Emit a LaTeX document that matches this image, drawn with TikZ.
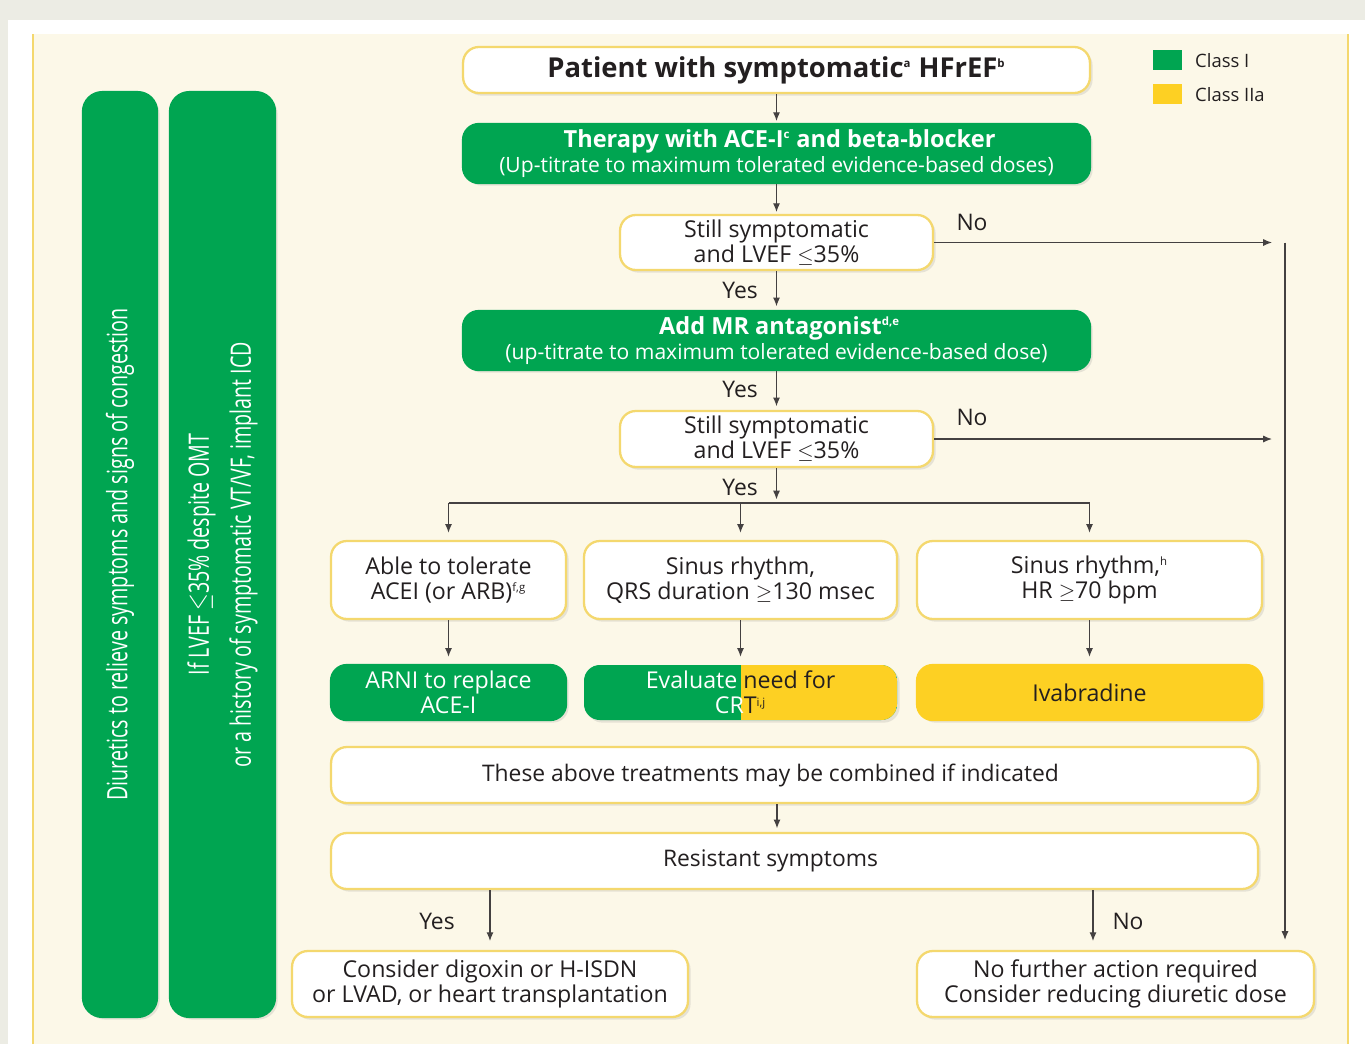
\documentclass[tikz,border=0pt]{standalone}
\usepackage{fontspec}
\setmainfont{Open Sans}
\usetikzlibrary{arrows.meta,positioning,shadows}

\definecolor{escgreen}{HTML}{00A551}
\definecolor{escyellow}{HTML}{FDD023}
\definecolor{escline}{HTML}{F4D86E}
\definecolor{esccream}{HTML}{FCF8E8}
\definecolor{escgray}{HTML}{ECECE4}
\definecolor{esctext}{HTML}{231F20}

\newcommand{\fs}[2]{\fontsize{#1}{#2}\selectfont}
\newcommand{\narrow}[1]{\scalebox{0.7}[1]{#1}}
\newcommand{\fnote}[1]{\textsuperscript{\fontsize{6.5}{7}\selectfont #1}}

\tikzset{
  boxbase/.style={draw=escline, line width=1.3pt, fill=white, rounded corners=9pt,
    align=center, text=esctext, inner sep=0pt, font=\fs{13.2}{14.2}},
  box/.style={boxbase, drop shadow={opacity=0.18, shadow xshift=1.5pt, shadow yshift=-1.5pt}},
  greenbox/.style={box, draw=escgreen, fill=escgreen, text=white},
  ylwbox/.style={box, draw=escyellow, fill=escyellow},
  sidebar/.style={greenbox, rotate=90, rounded corners=11pt, font=\fs{16}{24}},
  arr/.style={draw=esctext!85, line width=0.7pt, -{Latex[length=5pt,width=4pt]}},
  lbl/.style={text=esctext, font=\fs{13}{14}},
}

\begin{document}
\begin{tikzpicture}[x=0.02cm, y=-0.02cm]
  %%%%%%%% Sfondo %%%%%%%%
  \fill[escgray] (0,0) rectangle (1365,1044);
  \fill[white] (8,20) rectangle (1365,1044);
  \fill[esccream] (33,34) rectangle (1348,1044);
  \draw[escline, line width=0.8pt] (33,1044) -- (33,34);
  \draw[escline, line width=0.8pt] (1348,1044) -- (1348,34);

  %%%%%%%% Barre laterali %%%%%%%%
  \node[sidebar, minimum width=18.5cm, minimum height=1.48cm] (diur) at (120,554.5)
    {\narrow{Diuretics to relieve symptoms and signs of congestion}};
  \node[sidebar, minimum width=18.5cm, minimum height=2.1cm] (icd) at (222.5,554.5)
    {\narrow{If LVEF $\leq$35\% despite OMT}\\\narrow{or a history of symptomatic VT/VF, implant ICD}};

  %%%%%%%% Legenda %%%%%%%%
  \node[fill=escgreen, minimum width=0.58cm, minimum height=0.4cm, inner sep=0pt] (lgreen) at (1167.5,60) {};
  \node[fill=escyellow, minimum width=0.58cm, minimum height=0.4cm, inner sep=0pt] (lyellow) at (1167.5,94) {};
  \node[lbl, font=\fs{10.5}{12}, anchor=west] (lgreentxt) at (1189,61) {Class I};
  \node[lbl, font=\fs{10.5}{12}, anchor=west] (lyellowtxt) at (1189,95) {Class IIa};

  %%%%%%%% Blocchi %%%%%%%%
  \node[box, font=\bfseries\fs{15.6}{16}, minimum width=12.54cm, minimum height=0.92cm] (pat) at (776.5,70)
    {Patient with symptomatic\fnote{a} HFrEF\fnote{b}};
  \node[greenbox, minimum width=12.54cm, minimum height=1.18cm] (ther) at (776.5,153.5)
    {{\bfseries\fs{13.4}{14} Therapy with ACE-I\fnote{c} and beta-blocker}\\
     {\fs{12}{13}(Up-titrate to maximum tolerated evidence-based doses)}};
  \node[box, minimum width=6.26cm, minimum height=1.1cm] (still1) at (776.5,242.5)
    {Still symptomatic\\and LVEF $\leq$35\%};
  \node[greenbox, minimum width=12.54cm, minimum height=1.18cm] (mra) at (776.5,340.5)
    {{\bfseries\fs{13.4}{14} Add MR antagonist\fnote{d,e}}\\
     {\fs{12}{13}(up-titrate to maximum tolerated evidence-based dose)}};
  \node[box, minimum width=6.26cm, minimum height=1.12cm] (still2) at (776.5,439)
    {Still symptomatic\\and LVEF $\leq$35\%};

  \node[box, minimum width=4.7cm, minimum height=1.56cm] (tol) at (448.5,580)
    {Able to tolerate\\ACEI (or ARB)\fnote{f,g}};
  \node[box, minimum width=6.26cm, minimum height=1.56cm] (qrs) at (740.5,580)
    {Sinus rhythm,\\QRS duration $\geq$130 msec};
  \node[box, minimum width=6.9cm, minimum height=1.56cm] (hr) at (1089.5,580)
    {Sinus rhythm,\fnote{h}\\HR $\geq$70 bpm};

  \node[greenbox, minimum width=4.7cm, minimum height=1.1cm] (arni) at (448.5,692.5)
    {ARNI to replace\\ACE-I};
  % CRT: meta' verde, meta' gialla
  \path[fill=escgreen, rounded corners=9pt, drop shadow={opacity=0.18, shadow xshift=1.5pt, shadow yshift=-1.5pt}]
    (584,665) rectangle (897,720);
  \begin{scope}
    \clip[rounded corners=9pt] (584,665) rectangle (897,720);
    \fill[escyellow] (741,665) rectangle (897,720);
  \end{scope}
  \node[boxbase, draw=none, fill=none, minimum width=6.26cm, minimum height=1.1cm] (crt) at (740.5,692.5)
    {{\color{white}Evaluate }need for\\{\color{white}CR}T\fnote{i,j}};
  \node[ylwbox, minimum width=6.9cm, minimum height=1.1cm] (ivab) at (1089.5,692.5)
    {Ivabradine};

  \node[box, font=\fs{13}{14}, minimum width=18.54cm, minimum height=1.12cm] (comb) at (794.5,775)
    {\hspace*{-0.96cm}These above treatments may be combined if indicated};
  \node[box, font=\fs{13}{14}, minimum width=18.54cm, minimum height=1.12cm] (resist) at (794.5,861)
    {\hspace*{-0.96cm}Resistant symptoms};

  \node[box, minimum width=7.92cm, minimum height=1.32cm] (dig) at (490,984)
    {Consider digoxin or H-ISDN\\or LVAD, or heart transplantation};
  \node[box, minimum width=7.94cm, minimum height=1.32cm] (nofur) at (1115.5,984)
    {No further action required\\Consider reducing diuretic dose};

  %%%%%%%% Frecce %%%%%%%%
  \coordinate (no1) at (1272,242.5);
  \coordinate (no2) at (1272,439);
  \coordinate (vtop) at (1285,242.5);
  \coordinate (vend) at (1285,940);
  \coordinate (split) at (776.5,503);

  \draw[arr, shorten >=1pt] (pat) -- (ther);
  \draw[arr, shorten >=1pt] (ther) -- (still1);
  \draw[arr, shorten >=2pt] (still1) -- (mra);
  \draw[arr, shorten >=2pt] (mra) -- (still2);
  \draw[arr] (still1) -- (no1);
  \draw[arr] (still2) -- (no2);
  \draw[arr] (vtop) -- (vend);
  \draw[arr, shorten >=2pt] (still2) -- (split);
  \draw[esctext!85, line width=0.7pt] (split -| tol) -- (split -| hr.north);
  \foreach \b in {tol,qrs,hr}
    \draw[arr, shorten >=4pt] (split -| \b) -- (\b.north);
  \foreach \a/\b in {tol/arni,qrs/crt,hr/ivab}
    \draw[arr, shorten >=4pt] (\a) -- (\b);
  \draw[arr, shorten >=2pt] (comb.south -| 777,0) -- (resist.north -| 777,0);
  \draw[arr, shorten >=5pt] (resist.south -| dig) -- (dig.north);
  \draw[arr, shorten >=5pt] (resist.south -| 1093,0) -- (nofur.north -| 1093,0);

  %%%%%%%% Testo %%%%%%%%
  \node[lbl] (lno1) at (972,222) {No};
  \node[lbl] (lno2) at (972,417) {No};
  \node[lbl] (lyes1) at (740,290) {Yes};
  \node[lbl] (lyes2) at (740,389) {Yes};
  \node[lbl] (lyes3) at (740,487) {Yes};
  \node[lbl] (lyes4) at (437,921) {Yes};
  \node[lbl] (lno3) at (1128,921) {No};
\end{tikzpicture}
\end{document}
